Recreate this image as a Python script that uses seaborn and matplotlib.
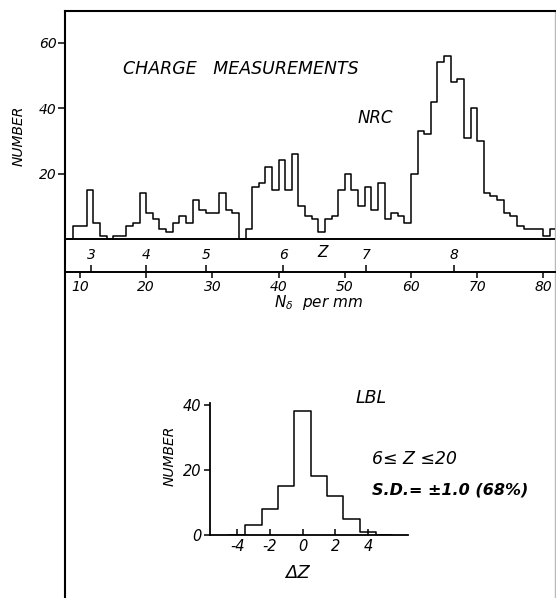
import numpy as np
import pandas as pd
import matplotlib
matplotlib.use("Agg")
import matplotlib.pyplot as plt
import seaborn as sns

# ---------------- data ----------------
# NRC: number of tracks per bin of N_delta (per mm); bin [n, n+1)
nrc_bin_left = list(range(8, 82))
nrc_counts = [0, 4, 4, 15, 5, 1, 0, 1, 1, 4,
              5, 14, 8, 6, 3, 2, 5, 7, 5, 12,
              9, 8, 8, 14, 9, 8, 0, 3, 16, 17,
              22, 15, 24, 15, 26, 10, 7, 6, 2, 6,
              7, 15, 20, 15, 10, 16, 9, 17, 6, 8,
              7, 5, 20, 33, 32, 42, 54, 56, 48, 49,
              31, 40, 30, 14, 13, 12, 8, 7, 4, 3,
              3, 3, 1, 3]

# Z scale drawn along the N_delta axis
z_labels = ["3", "4", "5", "6", "7", "8"]
z_at_ndelta = [11.7, 20.0, 29.1, 40.7, 53.2, 66.5]

ndelta_ticks = [10, 20, 30, 40, 50, 60, 70, 80]
number_ticks = [20, 40, 60]

# LBL inset: charge residual distribution
lbl_dz = [-4, -3, -2, -1, 0, 1, 2, 3, 4, 5]
lbl_counts = [0, 3, 8, 15, 38, 18, 12, 5, 1, 0]
lbl_xticks = [-4, -2, 0, 2, 4]
lbl_yticks = [0, 20, 40]

# ---------------- style ----------------
sns.set_style("white")
plt.rcParams["font.family"] = ["DejaVu Sans"]
plt.rcParams["font.style"] = "italic"
plt.rcParams["mathtext.default"] = "it"
plt.rcParams["axes.unicode_minus"] = False
for key in ["text.color", "axes.labelcolor", "xtick.color", "ytick.color"]:
    plt.rcParams[key] = "black"

W, H = 556, 598
fig = plt.figure(figsize=(W / 100, H / 100), dpi=100)


def rect(l, t, r, b):
    return [l / W, 1 - b / H, (r - l) / W, (b - t) / H]


# frame around the whole panel (open at the bottom)
bg = fig.add_axes(rect(65, 11, 555, 598))
bg.set_xticks([])
bg.set_yticks([])
bg.patch.set_alpha(0)
bg.spines["bottom"].set_visible(False)
bg.spines["left"].set_linewidth(1.5)
bg.spines["top"].set_linewidth(1.5)
bg.spines["left"].set_color("black")
bg.spines["top"].set_color("black")
bg.spines["right"].set_linewidth(1.0)
bg.spines["right"].set_color("#b8b8b8")
for s in bg.spines.values():
    s.set_zorder(5)

# ---------------- main histogram ----------------
df = pd.DataFrame({"N": [n + 0.5 for n in nrc_bin_left], "count": nrc_counts})
edges = nrc_bin_left + [nrc_bin_left[-1] + 1]

ax = fig.add_axes(rect(65, 11, 555, 272))
ax.patch.set_alpha(0)
sns.histplot(data=df, x="N", weights="count", bins=edges, element="step",
             fill=False, color="black", linewidth=1.1, ax=ax)
ax.set_xlim(7.73, 81.75)
ax.set_ylim(-10.1, 69.7)
ax.axhline(0, color="black", linewidth=1.4)
for side in ["top", "left", "right"]:
    ax.spines[side].set_visible(False)
ax.spines["bottom"].set_linewidth(1.4)
ax.spines["bottom"].set_color("black")

ax.set_yticks(number_ticks)
ax.set_xticks(ndelta_ticks)
ax.tick_params(axis="y", direction="out", length=5, width=1.1, labelsize=10,
               left=True, pad=1)
ax.tick_params(axis="x", direction="out", length=4, width=1.1, labelsize=10,
               bottom=True, pad=1.5)
ax.set_xlabel("")
ax.set_ylabel("NUMBER", fontsize=10)
ax.yaxis.set_label_coords(-0.08, 0.52)

# Z scale (ticks pointing up from the N_delta axis, labels above)
axz = ax.twiny()
axz.set_xlim(ax.get_xlim())
axz.xaxis.set_ticks_position("bottom")
axz.set_xticks(z_at_ndelta)
axz.set_xticklabels(z_labels)
axz.tick_params(axis="x", direction="in", length=5, width=1.1, labelsize=10,
                bottom=True, top=False, labelbottom=True, labeltop=False,
                pad=-17)
for s in axz.spines.values():
    s.set_visible(False)
axz.patch.set_alpha(0)

ax.text(46.7, -4.0, "Z", ha="center", va="center", fontsize=11)
ax.text(34.3, 52, "CHARGE   MEASUREMENTS", ha="center", va="center",
        fontsize=12.5)
ax.text(54.6, 37, "NRC", ha="center", va="center", fontsize=12)

fig.text(318 / W, 1 - 303 / H, r"$N_\delta$  per mm", ha="center", va="center",
         fontsize=11)

# ---------------- LBL inset ----------------
dfi = pd.DataFrame({"dz": lbl_dz, "count": lbl_counts})
ins = fig.add_axes(rect(210, 403, 408, 535))
ins.patch.set_alpha(0)
sns.histplot(data=dfi, x="dz", weights="count",
             bins=[v - 0.5 for v in lbl_dz] + [lbl_dz[-1] + 0.5],
             element="step", fill=False, color="black", linewidth=1.1, ax=ins)
ins.set_xlim(-5.67, 6.45)
ins.set_ylim(0, 40.6)
ins.spines["top"].set_visible(False)
ins.spines["right"].set_visible(False)
for side in ["left", "bottom"]:
    ins.spines[side].set_linewidth(1.3)
    ins.spines[side].set_color("black")
ins.set_xticks(lbl_xticks)
ins.set_yticks(lbl_yticks)
ins.tick_params(axis="y", direction="out", length=4, width=1.1, labelsize=10.5,
                left=True, pad=2)
ins.tick_params(axis="x", direction="in", length=4, width=1.1, labelsize=10.5,
                bottom=True, pad=3)
ins.set_ylabel("NUMBER", fontsize=10)
ins.yaxis.set_label_coords(-0.17, 0.6)
ins.set_xlabel("ΔZ", fontsize=13)
ins.xaxis.set_label_coords(0.444, -0.22)

fig.text(371 / W, 1 - 398 / H, "LBL", ha="center", va="center", fontsize=12.5)
fig.text(372 / W, 1 - 459 / H, "6≤ Z ≤20", ha="left", va="center", fontsize=12.5)
fig.text(372 / W, 1 - 490 / H, "S.D.= ±1.0 (68%)", ha="left", va="center",
         fontsize=11.5, fontweight="bold")

fig.savefig("out.png", dpi=100)
